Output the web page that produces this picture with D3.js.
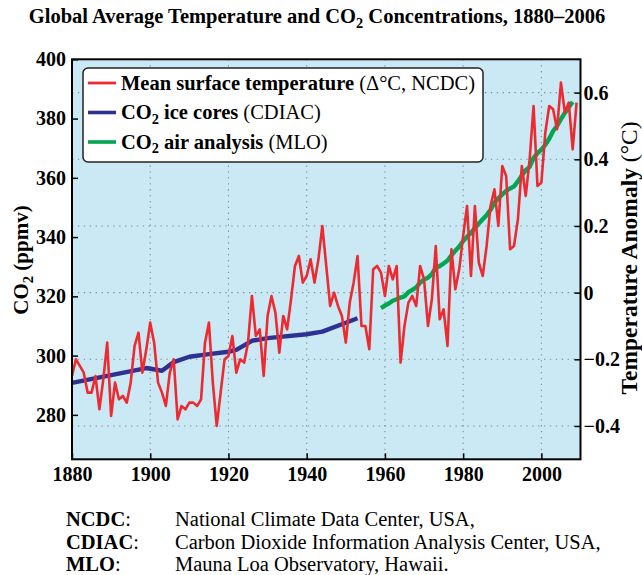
<!DOCTYPE html>
<html><head><meta charset="utf-8">
<script src="https://cdn.jsdelivr.net/npm/d3@7"></script>
<style>
body{margin:0;background:#fff;}
svg text{font-family:"Liberation Serif","Times New Roman",Times,serif;fill:#000;}
</style></head>
<body><svg id="chart" width="642" height="575"></svg>
<script>
// ---- data ----
const tempYears = d3.range(1880, 2010);
const tempAnomaly = [
-0.25,-0.20,-0.22,-0.24,-0.30,-0.30,-0.25,-0.35,-0.26,-0.15,
-0.37,-0.27,-0.32,-0.31,-0.33,-0.27,-0.16,-0.12,-0.24,-0.17,
-0.09,-0.15,-0.27,-0.30,-0.34,-0.24,-0.20,-0.38,-0.34,-0.35,
-0.33,-0.33,-0.34,-0.32,-0.15,-0.09,-0.27,-0.40,-0.30,-0.20,
-0.19,-0.13,-0.24,-0.20,-0.21,-0.15,-0.01,-0.13,-0.11,-0.25,
-0.07,-0.01,-0.06,-0.18,-0.07,-0.11,-0.02,0.08,0.11,0.03,
0.05,0.10,0.03,0.10,0.20,0.08,-0.04,0.00,-0.04,-0.07,
-0.15,-0.03,0.03,0.11,-0.10,-0.10,-0.17,0.07,0.08,0.06,
-0.01,0.08,0.04,0.08,-0.21,-0.10,-0.03,-0.01,-0.04,0.08,
0.04,-0.10,-0.02,0.14,-0.08,-0.05,-0.16,0.13,0.01,0.07,
0.17,0.26,0.05,0.26,0.09,0.05,0.14,0.26,0.31,0.20,
0.38,0.35,0.13,0.14,0.22,0.38,0.29,0.40,0.56,0.32,
0.33,0.48,0.56,0.55,0.49,0.63,0.54,0.57,0.43,0.57];

const iceYears = [1880,1890,1899,1903,1906,1910,1915,1920,1922,1926,1930,1940,1944,1950,1953];
const iceCO2   = [290.8,293.4,295.8,294.9,297.8,299.6,300.5,301.3,301.9,305.0,305.9,307.2,308.1,311.1,312.6];

const mloYears = d3.range(1959, 2009);
const mloCO2 = [
316.0,316.9,317.6,318.5,319.0,319.6,320.0,321.4,322.2,323.0,
324.6,325.7,326.3,327.5,329.7,330.2,331.1,332.1,333.8,335.4,
336.8,338.7,340.1,341.4,343.0,344.6,346.0,347.4,349.2,351.6,
353.1,354.4,355.6,356.4,357.1,358.8,360.8,362.6,363.7,366.7,
368.3,369.5,371.1,373.2,375.8,377.5,379.8,381.9,383.8,385.6];

const xTicks = [1880,1900,1920,1940,1960,1980,2000];
const co2Ticks = [280,300,320,340,360,380,400];
const tempTicks = [-0.4,-0.2,0,0.2,0.4,0.6];

const footAbbr = ["NCDC","CDIAC","MLO"];
const footText = ["National Climate Data Center, USA,",
                  "Carbon Dioxide Information Analysis Center, USA,",
                  "Mauna Loa Observatory, Hawaii."];

// ---- layout ----
const L = 72, R = 580.5, T = 59.3, B = 459.3;
const svg = d3.select("#chart");
const FONT = 20.5, TICKF = 20;

const x = d3.scaleLinear().domain([1880, 2010]).range([L, R]);
const yL = d3.scaleLinear().domain([265, 400]).range([B, T]);
const yR = d3.scaleLinear().domain([-0.5, 0.7]).range([B, T]);

svg.append("rect").attr("x", L).attr("y", T).attr("width", R - L).attr("height", B - T)
  .attr("fill", "#cae9f4");

// grid
const grid = svg.append("g").attr("stroke", "#7a8a90").attr("stroke-width", 1.1)
  .attr("stroke-dasharray", "1.3,4.6");
grid.selectAll(".vg").data(xTicks.filter(d => d > 1880)).join("line")
  .attr("x1", d => x(d)).attr("x2", d => x(d)).attr("y1", T).attr("y2", B);
grid.selectAll(".hg").data(tempTicks).join("line")
  .attr("x1", L).attr("x2", R).attr("y1", d => yR(d)).attr("y2", d => yR(d));

// lines
const lineT = d3.line().x((d, i) => x(tempYears[i])).y(d => yR(d));
const lineIce = d3.line().x((d, i) => x(iceYears[i])).y(d => yL(d));
const lineMlo = d3.line().x((d, i) => x(mloYears[i])).y(d => yL(d));

svg.append("path").datum(iceCO2).attr("d", lineIce).attr("fill", "none")
  .attr("stroke", "#2e3192").attr("stroke-width", 4.4).attr("stroke-linejoin", "round");
svg.append("path").datum(mloCO2).attr("d", lineMlo).attr("fill", "none")
  .attr("stroke", "#00a651").attr("stroke-width", 4.4).attr("stroke-linejoin", "round");
svg.append("path").datum(tempAnomaly).attr("d", lineT).attr("fill", "none")
  .attr("stroke", "#ee2a30").attr("stroke-width", 2.6).attr("stroke-linejoin", "round");

// axes
const styleAxis = g => {
  g.select(".domain").remove();
  g.selectAll(".tick line").attr("stroke", "#000").attr("stroke-width", 1.5);
  g.selectAll(".tick text").attr("font-size", TICKF).attr("font-weight", "bold")
    .attr("font-family", '"Liberation Serif","Times New Roman",serif');
};
svg.append("g").attr("transform", `translate(${L},0)`)
  .call(d3.axisLeft(yL).tickValues(co2Ticks).tickSize(-6).tickPadding(6).tickFormat(d3.format("d")))
  .call(styleAxis);
svg.append("g").attr("transform", `translate(${R},0)`)
  .call(d3.axisRight(yR).tickValues(tempTicks).tickSize(-6).tickPadding(3)
    .tickFormat(d => d === 0 ? "0" : d3.format(".1f")(d)))
  .call(styleAxis);
svg.append("g").attr("transform", `translate(0,${B})`)
  .call(d3.axisBottom(x).tickValues(xTicks).tickSize(-6).tickPadding(8).tickFormat(d3.format("d")))
  .call(styleAxis);

// frame
svg.append("rect").attr("x", L).attr("y", T).attr("width", R - L).attr("height", B - T)
  .attr("fill", "none").attr("stroke", "#000").attr("stroke-width", 2);

// legend
const leg = svg.append("g");
leg.append("rect").attr("x", 83).attr("y", 68).attr("width", 400).attr("height", 94).attr("rx", 5)
  .attr("fill", "#fff").attr("stroke", "#222").attr("stroke-width", 1.5);
const legItems = [
  {c: "#ee2a30", w: 2.8, parts: [["Mean surface temperature", true, false], [" (Δ°C, NCDC)", false, false]]},
  {c: "#2e3192", w: 3.6, parts: [["CO", true, false], ["2", true, true], [" ice cores", true, false], [" (CDIAC)", false, false]]},
  {c: "#00a651", w: 3.6, parts: [["CO", true, false], ["2", true, true], [" air analysis", true, false], [" (MLO)", false, false]]}
];
legItems.forEach((it, i) => {
  const cy = 83 + i * 29.5;
  leg.append("line").attr("x1", 88).attr("x2", 116).attr("y1", cy).attr("y2", cy)
    .attr("stroke", it.c).attr("stroke-width", it.w);
  const t = leg.append("text").attr("x", 121).attr("y", cy + 6.5).attr("font-size", FONT);
  let prevSub = false;
  it.parts.forEach(p => {
    const s = t.append("tspan").text(p[0]).attr("font-weight", p[1] ? "bold" : "normal");
    if (p[2]) s.attr("font-size", FONT * 0.7).attr("dy", 4.5);
    else if (prevSub) s.attr("dy", -4.5);
    prevSub = p[2];
  });
});

// title
const title = svg.append("text").attr("x", 317).attr("y", 23).attr("text-anchor", "middle")
  .attr("font-size", FONT).attr("font-weight", "bold");
title.append("tspan").text("Global Average Temperature and CO");
title.append("tspan").text("2").attr("font-size", FONT * 0.7).attr("dy", 4.5);
title.append("tspan").text(" Concentrations, 1880–2006").attr("dy", -4.5);

// y labels
const yl = svg.append("text").attr("transform", "translate(28,260) rotate(-90)")
  .attr("text-anchor", "middle").attr("font-size", 21).attr("font-weight", "bold");
yl.append("tspan").text("CO");
yl.append("tspan").text("2").attr("font-size", 21 * 0.7).attr("dy", 4.5);
yl.append("tspan").text(" (ppmv)").attr("dy", -4.5);

const yr = svg.append("text").attr("transform", "translate(637,258) rotate(-90)")
  .attr("text-anchor", "middle").attr("font-size", 23.5);
yr.append("tspan").text("Temperature Anomaly").attr("font-weight", "bold");
yr.append("tspan").text(" (°C)");

// footer
footAbbr.forEach((a, i) => {
  const yy = 526 + i * 22.5;
  const t = svg.append("text").attr("x", 66).attr("y", yy).attr("font-size", FONT);
  t.append("tspan").text(a).attr("font-weight", "bold");
  t.append("tspan").text(":");
  svg.append("text").attr("x", 175).attr("y", yy).attr("font-size", FONT).text(footText[i]);
});
</script></body></html>
